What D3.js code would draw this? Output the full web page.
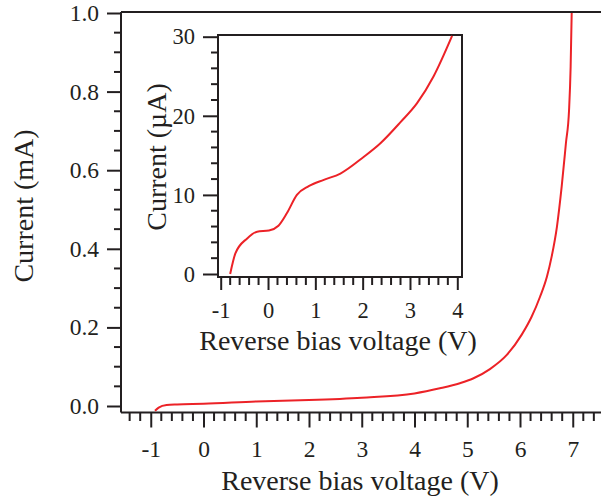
<!DOCTYPE html>
<html>
<head>
<meta charset="utf-8">
<script src="https://cdn.jsdelivr.net/npm/d3@7"></script>
<style>
    body { margin: 0; background: #fff; }
    svg { display: block; font-family: "Liberation Serif", "DejaVu Serif", serif; }
    .axis path, .axis line { stroke: #231f20; stroke-width: 2; }
    .title { fill: #231f20; font-size: 28px; }
</style>
</head>
<body>
<div id="chart"></div>
<script>
// main curve: reverse bias voltage (V) vs current (mA)
var mainVoltage = [-0.92, -0.85, -0.7, -0.5, 0, 1, 2, 3, 4, 4.48, 4.86, 5.11, 5.43, 5.75, 6.03, 6.22, 6.38, 6.51, 6.6, 6.7, 6.79, 6.87, 6.93, 6.96, 6.98];
var mainCurrent = [-0.012, -0.004, 0.0025, 0.004, 0.0055, 0.0115, 0.015, 0.021, 0.032, 0.045, 0.058, 0.07, 0.094, 0.13, 0.181, 0.227, 0.278, 0.329, 0.38, 0.456, 0.558, 0.668, 0.753, 0.863, 1.0];

// inset curve: low voltage region, current in uA
var insetVoltage = [-0.8, -0.69, -0.44, -0.23, 0.02, 0.22, 0.4, 0.61, 0.86, 1.18, 1.53, 2.02, 2.37, 2.8, 3.15, 3.5, 3.89];
var insetCurrent = [0, 2.6, 4.5, 5.35, 5.5, 6.1, 7.7, 10.0, 11.1, 11.9, 12.7, 14.8, 16.5, 19.2, 21.6, 25.0, 30.1];

var mainXTicks = [-1, 0, 1, 2, 3, 4, 5, 6, 7];
var mainYTicks = [0, 0.2, 0.4, 0.6, 0.8, 1.0];
var insetXTicks = [-1, 0, 1, 2, 3, 4];
var insetYTicks = [0, 10, 20, 30];

var width = 601, height = 496;
var red = '#ec2227';
var ink = '#231f20';

var svg = d3.select('#chart').append('svg')
    .attr('width', width)
    .attr('height', height);

// style tick labels after an axis call (d3 puts sans-serif 10px on the group)
function tickText (g, size) {
    g.attr('font-family', '"Liberation Serif", serif').attr('font-size', size);
    g.selectAll('text').attr('fill', ink).style('font-size', size + 'px');
}

// main scales
var x = d3.scaleLinear().domain([-1, 7]).range([150.75, 572.75]);
var y = d3.scaleLinear().domain([0, 1]).range([406, 13]);

// minor tick values (every 0.2 V, every 0.05 mA)
var mainXMinor = d3.range(-14, 75, 2).map(function (d) { return d / 10; })
    .filter(function (d) { return mainXTicks.indexOf(d) < 0; });
var mainYMinor = d3.range(0, 21).filter(function (d) { return d % 4 !== 0; })
    .map(function (d) { return d / 20; });

var plotLeft = 121, axisY = 412.5, plotTop = 12;

// frame line along the top edge
svg.append('line')
    .attr('x1', plotLeft).attr('x2', width)
    .attr('y1', plotTop).attr('y2', plotTop)
    .attr('stroke', ink).attr('stroke-width', 2);

// x axis
var gx = svg.append('g').attr('class', 'axis')
    .attr('transform', 'translate(0,' + axisY + ')');
gx.call(d3.axisBottom(x).tickValues(mainXTicks).tickSize(15).tickSizeOuter(0).tickPadding(13)
    .tickFormat(function (d) { return d; }));
tickText(gx, 23.5);
gx.select('.domain').attr('d', 'M' + plotLeft + ',0H' + width);
gx.append('g').selectAll('line').data(mainXMinor).enter().append('line')
    .attr('x1', function (d) { return x(d); })
    .attr('x2', function (d) { return x(d); })
    .attr('y1', 0).attr('y2', 8.5);

// y axis
var gy = svg.append('g').attr('class', 'axis')
    .attr('transform', 'translate(' + plotLeft + ',0)');
gy.call(d3.axisLeft(y).tickValues(mainYTicks).tickSize(14).tickSizeOuter(0).tickPadding(8)
    .tickFormat(d3.format('.1f')));
tickText(gy, 23.5);
gy.select('.domain').attr('d', 'M0,' + plotTop + 'V' + axisY);
gy.append('g').selectAll('line').data(mainYMinor).enter().append('line')
    .attr('x1', 0).attr('x2', -7)
    .attr('y1', function (d) { return y(d); })
    .attr('y2', function (d) { return y(d); });

// main curve
var mainLine = d3.line()
    .x(function (d) { return x(d[0]); })
    .y(function (d) { return y(d[1]); })
    .curve(d3.curveMonotoneX);
svg.append('path')
    .datum(d3.zip(mainVoltage, mainCurrent))
    .attr('fill', 'none')
    .attr('stroke', red)
    .attr('stroke-width', 2)
    .attr('d', mainLine);

// main titles
svg.append('text').attr('class', 'title')
    .attr('x', 360).attr('y', 490)
    .attr('text-anchor', 'middle')
    .text('Reverse bias voltage (V)');
svg.append('text').attr('class', 'title')
    .attr('transform', 'translate(33,206) rotate(-90)')
    .attr('text-anchor', 'middle')
    .text('Current (mA)');

// inset
var ix = d3.scaleLinear().domain([-1, 4]).range([220.7, 457.3]);
var iy = d3.scaleLinear().domain([0, 30]).range([274, 36.7]);
var inLeft = 218, inRight = 462, inTop = 35, inBottom = 277;

var inset = svg.append('g');
inset.append('rect')
    .attr('x', inLeft).attr('y', inTop)
    .attr('width', inRight - inLeft).attr('height', inBottom - inTop)
    .attr('fill', '#fff')
    .attr('stroke', ink).attr('stroke-width', 2);

var insetXMinor = d3.range(-10, 41, 2).map(function (d) { return d / 10; })
    .filter(function (d) { return insetXTicks.indexOf(d) < 0; });
var insetYMinor = d3.range(0, 31, 2).filter(function (d) { return insetYTicks.indexOf(d) < 0; });

var igx = inset.append('g').attr('class', 'axis')
    .attr('transform', 'translate(0,' + inBottom + ')');
igx.call(d3.axisBottom(ix).tickValues(insetXTicks).tickSize(13).tickSizeOuter(0).tickPadding(12)
    .tickFormat(function (d) { return d; }));
tickText(igx, 22.5);
igx.select('.domain').remove();
igx.append('g').selectAll('line').data(insetXMinor).enter().append('line')
    .attr('x1', function (d) { return ix(d); })
    .attr('x2', function (d) { return ix(d); })
    .attr('y1', 0).attr('y2', 8);

var igy = inset.append('g').attr('class', 'axis')
    .attr('transform', 'translate(' + inLeft + ',0)');
igy.call(d3.axisLeft(iy).tickValues(insetYTicks).tickSize(15).tickSizeOuter(0).tickPadding(8)
    .tickFormat(function (d) { return d; }));
tickText(igy, 22.5);
igy.select('.domain').remove();
igy.append('g').selectAll('line').data(insetYMinor).enter().append('line')
    .attr('x1', 0).attr('x2', -7)
    .attr('y1', function (d) { return iy(d); })
    .attr('y2', function (d) { return iy(d); });

var insetLine = d3.line()
    .x(function (d) { return ix(d[0]); })
    .y(function (d) { return iy(d[1]); })
    .curve(d3.curveMonotoneX);
inset.append('path')
    .datum(d3.zip(insetVoltage, insetCurrent))
    .attr('fill', 'none')
    .attr('stroke', red)
    .attr('stroke-width', 2)
    .attr('d', insetLine);

inset.append('text').attr('class', 'title')
    .attr('x', 338).attr('y', 350)
    .attr('text-anchor', 'middle')
    .text('Reverse bias voltage (V)');
inset.append('text').attr('class', 'title')
    .attr('transform', 'translate(166,157) rotate(-90)')
    .attr('text-anchor', 'middle')
    .text('Current (\u00b5A)');
</script>
</body>
</html>
